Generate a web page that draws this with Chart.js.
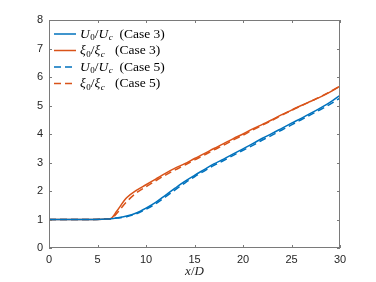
<!DOCTYPE html>
<html>
<head>
<meta charset="utf-8">
<script src="https://cdn.jsdelivr.net/npm/chart.js@4"></script>
<style>
  html, body { margin: 0; padding: 0; background: #fff; }
  #wrap { width: 376px; height: 282px; }
</style>
</head>
<body>
<div id="wrap"><canvas id="chart" width="376" height="282"></canvas></div>
<script>
// x/D positions where the curves were sampled
const xPos = [0, 2, 4, 6, 6.4, 7, 8, 9, 10, 11, 12, 13, 14, 15, 16, 17, 18, 19, 20, 21, 22, 23, 24, 25, 26, 27, 28, 29, 30];

// U0/Uc and xi0/xi_c for both cases
const u0Case3 = [1.0, 1.0, 1.0, 1.02, 1.03, 1.06, 1.12, 1.23, 1.4, 1.6, 1.85, 2.1, 2.34, 2.55, 2.75, 2.95, 3.12, 3.3, 3.48, 3.66, 3.85, 4.02, 4.2, 4.38, 4.55, 4.73, 4.92, 5.12, 5.36];
const xiCase3 = [1.0, 1.0, 1.0, 1.02, 1.04, 1.3, 1.76, 2.02, 2.22, 2.42, 2.62, 2.8, 2.96, 3.14, 3.31, 3.49, 3.66, 3.84, 4.0, 4.18, 4.34, 4.5, 4.68, 4.84, 5.0, 5.15, 5.3, 5.48, 5.68];
const u0Case5 = [1.0, 1.0, 1.0, 1.02, 1.03, 1.05, 1.1, 1.2, 1.36, 1.55, 1.79, 2.04, 2.28, 2.5, 2.7, 2.9, 3.07, 3.25, 3.43, 3.6, 3.79, 3.96, 4.14, 4.32, 4.5, 4.68, 4.86, 5.05, 5.26];
const xiCase5 = [1.0, 1.0, 1.0, 1.02, 1.03, 1.22, 1.62, 1.93, 2.15, 2.36, 2.56, 2.74, 2.91, 3.09, 3.26, 3.44, 3.61, 3.79, 3.96, 4.14, 4.31, 4.48, 4.66, 4.83, 4.99, 5.15, 5.31, 5.49, 5.68];

const xTicks = [0, 5, 10, 15, 20, 25, 30];
const yTicks = [0, 1, 2, 3, 4, 5, 6, 7, 8];

const BLUE = '#0072BD';
const ORANGE = '#D95319';
const DASH = [7, 4];

// legend entries: pieces of the math label [text, italic, subscript]
const legendItems = [
  { color: BLUE, dash: [], parts: [['U', 1, 0], ['0', 0, 1], ['/', 0, 0], ['U', 1, 0], ['c', 1, 1], ['  (Case 3)', 0, 0]] },
  { color: ORANGE, dash: [], parts: [['\u03BE', 1, 0], ['0', 0, 1], ['/', 0, 0], ['\u03BE', 1, 0], ['c', 1, 1], ['   (Case 3)', 0, 0]] },
  { color: BLUE, dash: DASH, parts: [['U', 1, 0], ['0', 0, 1], ['/', 0, 0], ['U', 1, 0], ['c', 1, 1], ['  (Case 5)', 0, 0]] },
  { color: ORANGE, dash: DASH, parts: [['\u03BE', 1, 0], ['0', 0, 1], ['/', 0, 0], ['\u03BE', 1, 0], ['c', 1, 1], ['   (Case 5)', 0, 0]] }
];

function toPoints(ys) {
  return xPos.map((x, i) => ({ x: x, y: ys[i] }));
}

function makeSet(label, ys, color, dash) {
  return {
    label: label,
    data: toPoints(ys),
    borderColor: color,
    backgroundColor: color,
    borderWidth: 1.5,
    borderDash: dash,
    pointRadius: 0,
    cubicInterpolationMode: 'monotone',
    fill: false
  };
}

// box, inward ticks and the math legend
const boxPlugin = {
  id: 'boxPlugin',
  afterDraw(chart) {
    const ctx = chart.ctx;
    const a = chart.chartArea;
    const xs = chart.scales.x;
    const ys = chart.scales.y;
    ctx.save();
    ctx.strokeStyle = '#7a7a7a';
    ctx.lineWidth = 1;
    ctx.strokeRect(a.left + 0.5, a.top + 0.5, a.right - a.left - 1, a.bottom - a.top - 1);
    ctx.beginPath();
    xTicks.forEach(v => {
      const px = Math.round(xs.getPixelForValue(v)) + 0.5;
      ctx.moveTo(px, a.bottom); ctx.lineTo(px, a.bottom - 3);
      ctx.moveTo(px, a.top); ctx.lineTo(px, a.top + 3);
    });
    yTicks.forEach(v => {
      const py = Math.round(ys.getPixelForValue(v)) + 0.5;
      ctx.moveTo(a.left, py); ctx.lineTo(a.left + 3, py);
      ctx.moveTo(a.right, py); ctx.lineTo(a.right - 3, py);
    });
    ctx.stroke();

    // legend
    let y = a.top + 14;
    legendItems.forEach(item => {
      ctx.setLineDash(item.dash);
      ctx.strokeStyle = item.color;
      ctx.lineWidth = 1.5;
      ctx.beginPath();
      ctx.moveTo(a.left + 5, y);
      ctx.lineTo(a.left + 27, y);
      ctx.stroke();
      ctx.setLineDash([]);
      ctx.fillStyle = '#000';
      ctx.textBaseline = 'middle';
      let x = a.left + 31;
      item.parts.forEach(([t, it, sub]) => {
        ctx.font = (it ? 'italic ' : '') + (sub ? '9px' : '13.5px') + ' "Liberation Serif", serif';
        ctx.fillText(t, x, sub ? y + 4 : y);
        x += ctx.measureText(t).width + (it && !sub ? 0.5 : 0);
      });
      y += 16.5;
    });

    // x title
    ctx.fillStyle = '#262626';
    ctx.textBaseline = 'alphabetic';
    ctx.font = 'italic 13px "Liberation Serif", serif';
    const cx = (a.left + a.right) / 2;
    const w1 = ctx.measureText('x').width;
    ctx.font = '13px "Liberation Serif", serif';
    const w2 = ctx.measureText('/').width;
    ctx.font = 'italic 13px "Liberation Serif", serif';
    const w3 = ctx.measureText('D').width;
    let tx = cx - (w1 + w2 + w3) / 2;
    ctx.fillText('x', tx, 275);
    ctx.font = '13px "Liberation Serif", serif';
    ctx.fillText('/', tx + w1, 275);
    ctx.font = 'italic 13px "Liberation Serif", serif';
    ctx.fillText('D', tx + w1 + w2, 275);
    ctx.restore();
  }
};

new Chart(document.getElementById('chart').getContext('2d'), {
  type: 'line',
  data: {
    datasets: [
      makeSet('U0/Uc (Case 3)', u0Case3, BLUE, []),
      makeSet('xi0/xic (Case 3)', xiCase3, ORANGE, []),
      makeSet('U0/Uc (Case 5)', u0Case5, BLUE, DASH),
      makeSet('xi0/xic (Case 5)', xiCase5, ORANGE, DASH)
    ]
  },
  options: {
    responsive: false,
    animation: false,
    layout: { padding: { top: 20, right: 36, bottom: 0, left: 0 } },
    plugins: { legend: { display: false }, tooltip: { enabled: false } },
    scales: {
      x: {
        type: 'linear',
        min: 0,
        max: 30,
        afterBuildTicks: s => { s.ticks = xTicks.map(v => ({ value: v })); },
        afterFit: s => { s.height = 34; },
        grid: { display: false, drawTicks: false },
        border: { display: false },
        ticks: { color: '#262626', padding: 5, font: { size: 11, family: 'Liberation Sans' }, maxRotation: 0 }
      },
      y: {
        type: 'linear',
        min: 0,
        max: 8,
        afterBuildTicks: s => { s.ticks = yTicks.map(v => ({ value: v })); },
        afterFit: s => { s.width = 49; },
        grid: { display: false, drawTicks: false },
        border: { display: false },
        ticks: { color: '#262626', padding: 6, font: { size: 11, family: 'Liberation Sans' } }
      }
    }
  },
  plugins: [boxPlugin]
});
</script>
</body>
</html>
